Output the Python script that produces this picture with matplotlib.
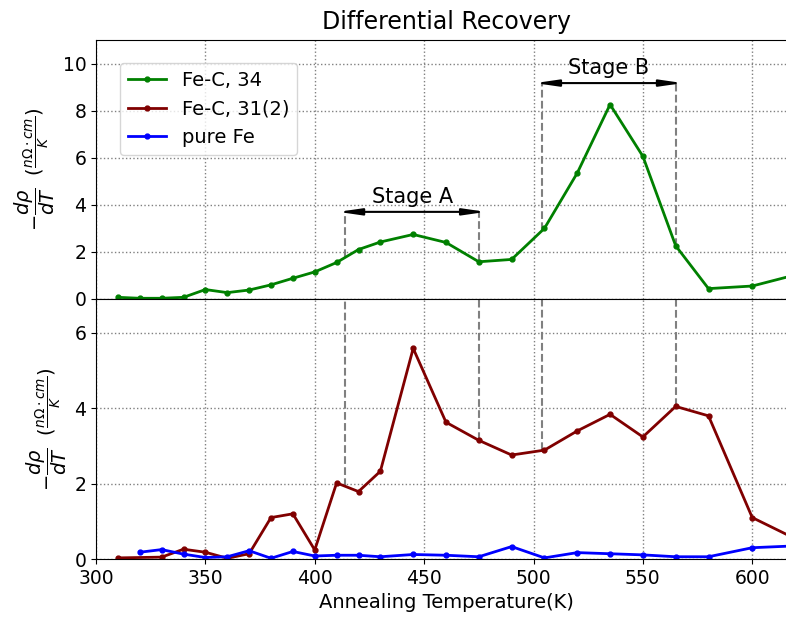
import numpy as np
import matplotlib
matplotlib.use('Agg')
import matplotlib.pyplot as plt

# Fe-C, 34
temps_34 = [310, 320, 330, 340, 350, 360, 370, 380, 390, 400, 410, 420, 430,
            445, 460, 475, 490, 505, 520, 535, 550, 565, 580, 600, 620]
vals_34 = [0.07, 0.03, 0.03, 0.07, 0.40, 0.27, 0.38, 0.60, 0.88, 1.15, 1.55,
           2.10, 2.42, 2.74, 2.40, 1.58, 1.68, 3.00, 5.35, 8.26, 6.06, 2.26,
           0.44, 0.55, 1.03]

# Fe-C, 31(2)
temps_31 = [310, 330, 340, 350, 360, 370, 380, 390, 400, 410, 420, 430, 445,
            460, 475, 490, 505, 520, 535, 550, 565, 580, 600, 620]
vals_31 = [0.03, 0.05, 0.26, 0.18, 0.02, 0.14, 1.10, 1.20, 0.24, 2.02, 1.79,
           2.33, 5.59, 3.63, 3.15, 2.76, 2.89, 3.40, 3.84, 3.24, 4.05, 3.80,
           1.10, 0.53]

# pure Fe
temps_fe = [320, 330, 340, 350, 360, 370, 380, 390, 400, 410, 420, 430, 445,
            460, 475, 490, 505, 520, 535, 550, 565, 580, 600, 620]
vals_fe = [0.18, 0.25, 0.13, 0.04, 0.06, 0.22, 0.02, 0.20, 0.08, 0.10, 0.10,
           0.06, 0.12, 0.10, 0.06, 0.33, 0.03, 0.17, 0.14, 0.11, 0.06, 0.06,
           0.30, 0.35]

stages = {'Stage A': (414, 475, 3.7, 4.32),
          'Stage B': (504, 565, 9.17, 9.79)}

ylab = r'$-\dfrac{d\rho}{dT}$  $(\frac{n\Omega\cdot cm}{K})$'

plt.rcParams['font.size'] = 14

fig = plt.figure(figsize=(7.86, 6.23), dpi=100)
ax1 = fig.add_axes([96 / 786, 0.5201, 700 / 786, 0.4157])
ax2 = fig.add_axes([96 / 786, 0.1027, 700 / 786, 0.4173], sharex=ax1)

ax1.plot(temps_34, vals_34, '.-', color='green', lw=2, ms=7, label='Fe-C, 34')
ax1.plot([], [], '.-', color='#800000', lw=2, ms=7, label='Fe-C, 31(2)')
ax1.plot([], [], '.-', color='blue', lw=2, ms=7, label='pure Fe')
ax2.plot(temps_31, vals_31, '.-', color='#800000', lw=2, ms=7)
ax2.plot(temps_fe, vals_fe, '.-', color='blue', lw=2, ms=7)

for name, (xa, xb, yarr, ytxt) in stages.items():
    for x in (xa, xb):
        ytop = np.interp(x, temps_34, vals_34)
        ybot = np.interp(x, temps_31, vals_31)
        ax1.plot([x, x], [ytop, yarr], '--', color='gray', lw=1.5, zorder=1)
        ax2.plot([x, x], [ybot, 6.9], '--', color='gray', lw=1.5, zorder=1)
    ax1.annotate('', xy=(xa - 3.3, yarr), xytext=(xb + 3.3, yarr),
                 arrowprops=dict(arrowstyle='<|-|>,head_length=0.9,head_width=0.13',
                                 color='black', lw=1.5, shrinkA=0, shrinkB=0,
                                 mutation_scale=15))
    ax1.text((xa + xb) / 2, ytxt, name, ha='center', va='center', fontsize=15)

ax1.set_xlim(300, 620)
ax1.set_ylim(0, 11)
ax2.set_ylim(0, 6.9)
ax1.set_yticks([0, 2, 4, 6, 8, 10])
ax2.set_yticks([0, 2, 4, 6])
ax2.set_xticks([300, 350, 400, 450, 500, 550, 600])
ax1.tick_params(labelbottom=False, labelsize=13.5)
ax2.tick_params(labelsize=13.5)

for ax in (ax1, ax2):
    ax.grid(True, linestyle=':', color='gray', lw=1)
    ax.set_ylabel(ylab, fontsize=14)

ax1.legend(loc='upper left', bbox_to_anchor=(0.034, 0.911), borderaxespad=0,
           fontsize=14)
ax1.set_title('Differential Recovery', fontsize=17, pad=8)
ax2.set_xlabel('Annealing Temperature(K)', fontsize=14)

fig.savefig('out.png', dpi=100)
